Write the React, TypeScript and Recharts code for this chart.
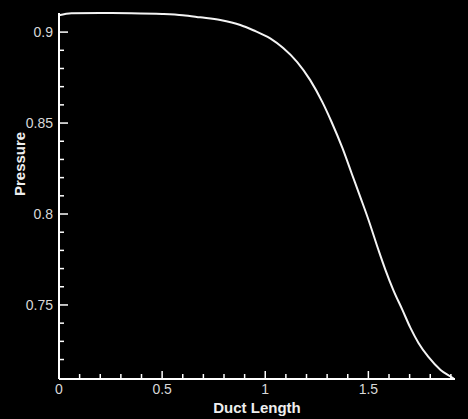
import React from 'react';
import { LineChart, Line, XAxis, YAxis, Label } from 'recharts';

// duct length (x) and pressure (y)
const ductLength = [0, 0.06, 0.2, 0.35, 0.5, 0.6, 0.684, 0.782, 0.879, 0.942, 1.024, 1.087, 1.155, 1.218, 1.277, 1.32, 1.374, 1.42, 1.461, 1.5, 1.549, 1.583, 1.621, 1.665, 1.704, 1.743, 1.791, 1.85, 1.908, 1.915];
const pressure = [0.9093, 0.9104, 0.9105, 0.9104, 0.91, 0.9093, 0.9081, 0.9066, 0.9039, 0.901, 0.8965, 0.8912, 0.8835, 0.8736, 0.8615, 0.851, 0.8363, 0.822, 0.8093, 0.797, 0.7802, 0.7692, 0.7582, 0.7473, 0.7374, 0.7291, 0.7214, 0.7143, 0.7099, 0.7093];

const xMajor = [0, 0.5, 1, 1.5];
const xTicks = [0, 0.1, 0.2, 0.3, 0.4, 0.5, 0.6, 0.7, 0.8, 0.9, 1, 1.1, 1.2, 1.3, 1.4, 1.5, 1.6, 1.7, 1.8, 1.9];
const yMajor = [0.75, 0.8, 0.85, 0.9];
const yTicks = [0.72, 0.73, 0.74, 0.75, 0.76, 0.77, 0.78, 0.79, 0.8, 0.81, 0.82, 0.83, 0.84, 0.85, 0.86, 0.87, 0.88, 0.89, 0.9];

const data = ductLength.map((x, i) => ({ x, p: pressure[i] }));

const isMajor = (list: number[], v: number) => list.some(m => Math.abs(m - v) < 1e-6);

const font = 'Liberation Sans, Arial, sans-serif';

const XTick = (props: any) => {
  const { x, y, payload } = props;
  const major = isMajor(xMajor, payload.value);
  return (
    <g>
      <line x1={x} x2={x} y1={y} y2={y - (major ? 8 : 5)} stroke="#fff" strokeWidth={1.5} />
      {major && (
        <text x={x} y={y + 15} textAnchor="middle" fill="#d8d8d8" fontSize={14} fontFamily={font}>
          {payload.value}
        </text>
      )}
    </g>
  );
};

const YTick = (props: any) => {
  const { x, y, payload } = props;
  const major = isMajor(yMajor, payload.value);
  return (
    <g>
      <line x1={x} x2={x + (major ? 9 : 5)} y1={y} y2={y} stroke="#fff" strokeWidth={1.5} />
      {major && (
        <text x={x - 6} y={y + 5} textAnchor="end" fill="#d8d8d8" fontSize={14} fontFamily={font}>
          {payload.value}
        </text>
      )}
    </g>
  );
};

export default function App() {
  return (
    <div style={{ position: 'absolute', left: 0, top: 0, width: 468, height: 419, background: '#000' }}>
      <LineChart width={468} height={419} data={data} margin={{ top: 13, right: 13, bottom: 0, left: 0 }}>
        <XAxis
          type="number"
          dataKey="x"
          domain={[0, 1.92]}
          ticks={xTicks}
          interval={0}
          tick={<XTick />}
          tickSize={0}
          tickMargin={0}
          height={40}
          axisLine={{ stroke: '#fff', strokeWidth: 2 }}
        >
          <Label value="Duct Length" position="insideBottom" offset={6} fill="#eee" fontSize={15} fontWeight="bold" fontFamily={font} />
        </XAxis>
        <YAxis
          type="number"
          dataKey="p"
          domain={[0.7093, 0.9105]}
          ticks={yTicks}
          interval={0}
          tick={<YTick />}
          tickSize={0}
          tickMargin={0}
          width={59}
          axisLine={{ stroke: '#fff', strokeWidth: 2 }}
        >
          <Label value="Pressure" angle={-90} position="insideLeft" offset={20} fill="#eee" fontSize={15} fontWeight="bold" fontFamily={font} />
        </YAxis>
        <Line type="monotone" dataKey="p" stroke="#f4f4f4" strokeWidth={2} dot={false} isAnimationActive={false} />
      </LineChart>
    </div>
  );
}
